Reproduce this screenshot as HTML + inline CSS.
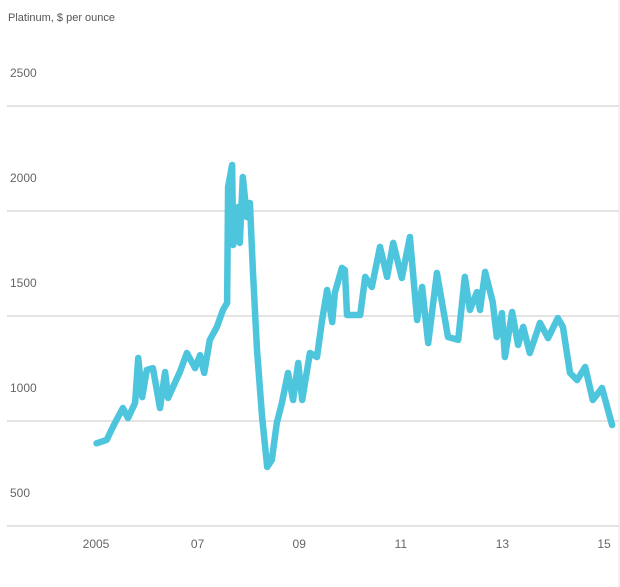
<!DOCTYPE html>
<html><head><meta charset="utf-8"><style>
html,body{margin:0;padding:0;background:#fff;}
svg{display:block;font-family:"Liberation Sans",sans-serif;}
</style></head><body>
<svg id="chart" width="620" height="587" xmlns="http://www.w3.org/2000/svg">
<rect x="0" y="0" width="620" height="587" fill="#fff"/>
<line x1="619" y1="0" x2="619" y2="587" stroke="#e4e4e4" stroke-width="1"/>
<text x="8" y="21" font-size="11" fill="#555">Platinum, $ per ounce</text>
<g id="grid"></g>
<g id="ylabels"></g>
<g id="xlabels"></g>
<g id="series"></g>
</svg>
<script>
const yTicks = [500, 1000, 1500, 2000, 2500];
const xTickYears = [2005, 2007, 2009, 2011, 2013, 2015];
const xTickLabels = ["2005", "07", "09", "11", "13", "15"];
const dates = [2005.01,2005.21,2005.37,2005.53,2005.63,2005.77,2005.83,2005.91,2006.00,2006.12,2006.26,2006.36,2006.42,2006.65,2006.79,2006.95,2007.05,2007.13,2007.24,2007.38,2007.50,2007.58,2007.60,2007.68,2007.70,2007.80,2007.83,2007.89,2007.97,2008.03,2008.09,2008.17,2008.27,2008.37,2008.46,2008.56,2008.66,2008.78,2008.88,2008.98,2009.06,2009.21,2009.35,2009.45,2009.55,2009.65,2009.70,2009.84,2009.90,2009.94,2010.20,2010.30,2010.43,2010.59,2010.73,2010.85,2011.02,2011.18,2011.32,2011.42,2011.54,2011.71,2011.93,2012.13,2012.26,2012.36,2012.50,2012.56,2012.66,2012.81,2012.89,2012.99,2013.05,2013.19,2013.31,2013.41,2013.54,2013.74,2013.90,2014.09,2014.19,2014.33,2014.47,2014.63,2014.78,2014.96,2015.16];
const prices = [894,910,990,1062,1014,1086,1300,1114,1243,1252,1062,1233,1110,1233,1324,1252,1314,1229,1386,1448,1529,1562,2114,2219,1838,2019,1848,2162,1971,2038,1705,1338,1019,781,814,990,1086,1229,1100,1276,1100,1324,1305,1481,1624,1471,1610,1729,1719,1505,1505,1686,1638,1829,1686,1848,1681,1876,1481,1638,1371,1705,1400,1386,1686,1529,1614,1529,1710,1567,1400,1514,1305,1519,1362,1448,1324,1467,1395,1490,1448,1229,1195,1257,1100,1157,981];

const NS = "http://www.w3.org/2000/svg";
function xScale(t){ return 96 + (t - 2005) * 50.8; }
function yScale(v){ return 526 - (v - 500) * 0.21; }

const grid = document.getElementById('grid');
const yl = document.getElementById('ylabels');
yTicks.forEach(v => {
  const l = document.createElementNS(NS, 'line');
  
  
  l.setAttribute('x1', 7); l.setAttribute('x2', 619);
  l.setAttribute('y1', yScale(v)); l.setAttribute('y2', yScale(v));
  l.setAttribute('stroke', '#dcdcdc'); l.setAttribute('stroke-width', 1.5);
  grid.appendChild(l);
  const t = document.createElementNS(NS, 'text');
  
  
  t.setAttribute('x', 10); t.setAttribute('y', yScale(v) - 29);
  t.setAttribute('font-size', '12'); t.setAttribute('fill', '#666');
  t.textContent = String(v);
  yl.appendChild(t);
});
const xl = document.getElementById('xlabels');
xTickYears.forEach((yr, i) => {
  const t = document.createElementNS(NS, 'text');
  
  
  t.setAttribute('x', xScale(yr)); t.setAttribute('y', 548);
  t.setAttribute('text-anchor', 'middle');
  t.setAttribute('font-size', '12'); t.setAttribute('fill', '#666');
  t.textContent = xTickLabels[i];
  xl.appendChild(t);
});
const series = document.getElementById('series');
let d = '';
dates.forEach((t, i) => { d += (i ? 'L' : 'M') + xScale(t).toFixed(1) + ',' + yScale(prices[i]).toFixed(1); });
const p = document.createElementNS(NS, 'path');


p.setAttribute('d', d);
p.setAttribute('fill', 'none');
p.setAttribute('stroke', '#4dc5dc');
p.setAttribute('stroke-width', '6.5');
p.setAttribute('stroke-linejoin', 'round');
p.setAttribute('stroke-linecap', 'round');
series.appendChild(p);
</script>
</body></html>
